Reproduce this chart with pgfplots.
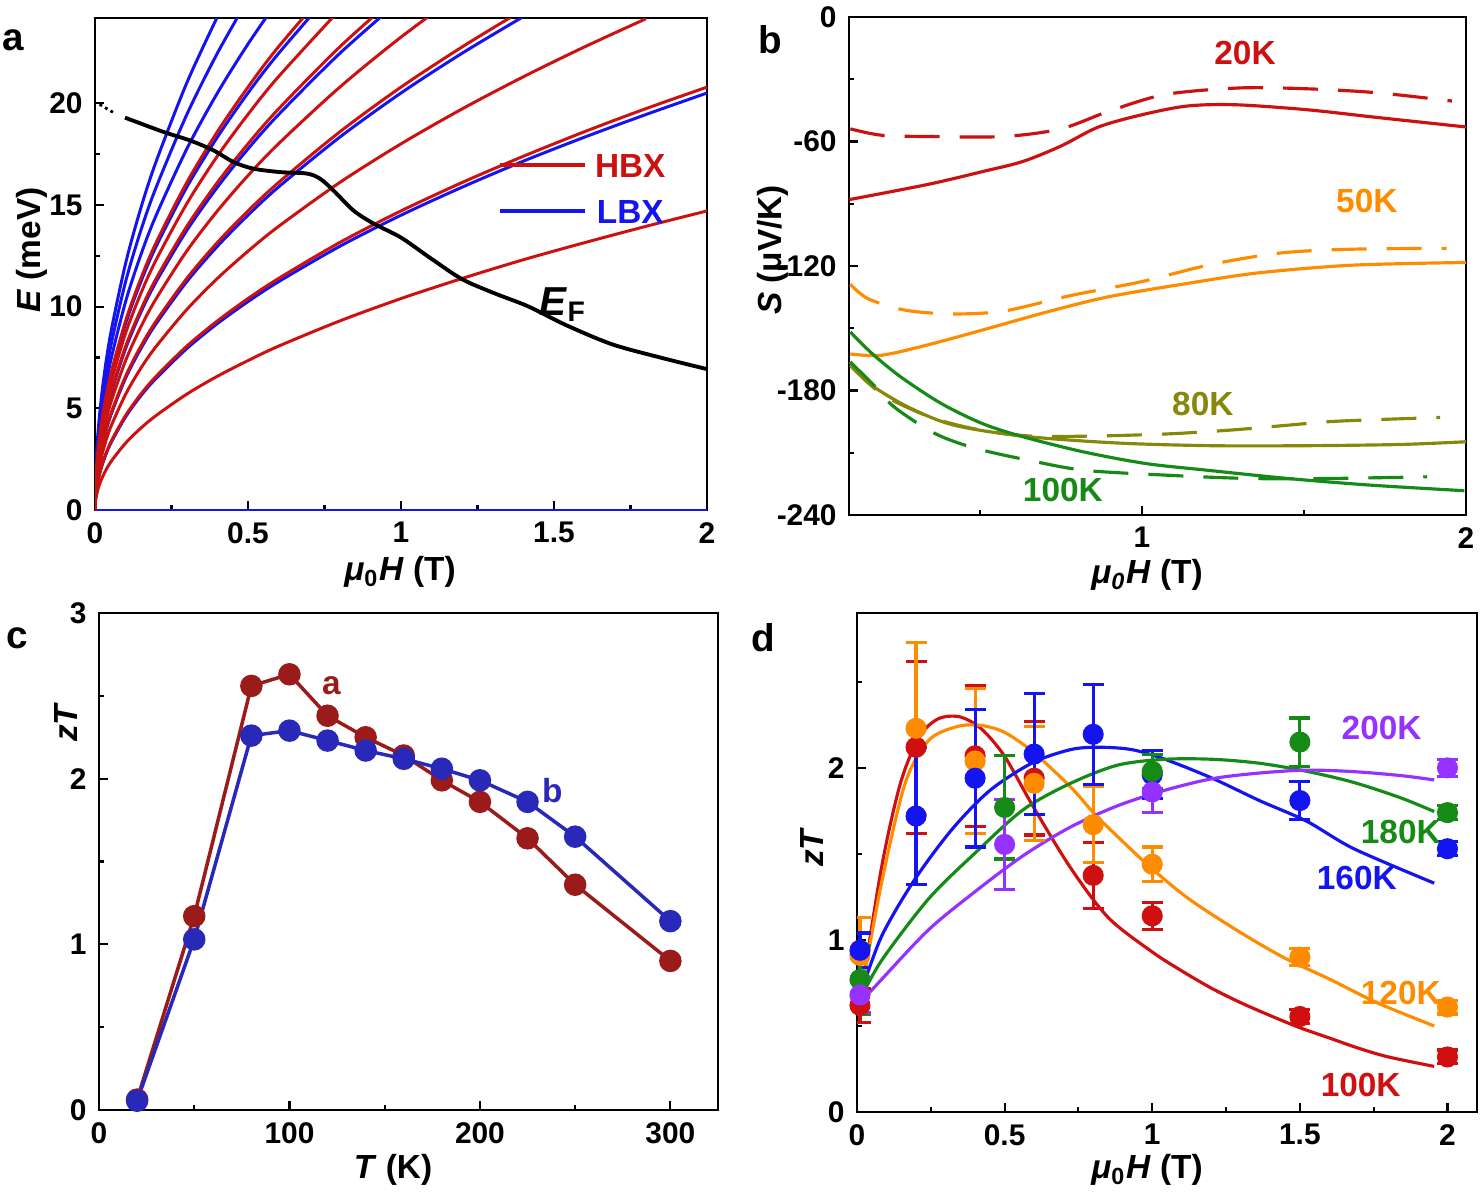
\documentclass[border=0pt]{standalone}
\usepackage{fontspec}
\setmainfont{Liberation Sans}
\usepackage{pgfplots}
\pgfplotsset{compat=1.18}

\definecolor{hbx}{RGB}{204,17,17}
\definecolor{lbx}{RGB}{20,20,240}
\definecolor{ra}{RGB}{155,27,27}
\definecolor{bb}{RGB}{40,40,185}
\definecolor{cred}{RGB}{208,16,16}
\definecolor{corange}{RGB}{255,140,0}
\definecolor{colive}{RGB}{135,135,10}
\definecolor{cgreen}{RGB}{22,138,22}
\definecolor{cblue}{RGB}{20,20,240}
\definecolor{cpurple}{RGB}{150,50,255}

\newcommand{\tfont}{\bfseries\fontsize{8.5}{10}\selectfont}
\newcommand{\lfont}{\bfseries\fontsize{9.5}{11}\selectfont}

\pgfplotsset{
  panel/.style={scale only axis, anchor=south west,
    axis line style={line width=0.8pt},
    tick style={line width=0.6pt, black},
    major tick length=0.09cm, minor tick length=0.05cm,
    tick pos=left,
    ticklabel style={font=\tfont},
    /pgf/number format/assume math mode=true},
  lev/.style={line width=0.85pt, smooth, forget plot},
  sb/.style={line width=0.9pt, smooth},
  sbd/.style={line width=0.9pt, smooth, dash pattern=on 0.35cm off 0.2cm},
  pts/.style={only marks, mark=*, mark size=2.8pt,
    error bars/.cd, y dir=both, y explicit,
    error bar style={line width=0.9pt},
    error mark options={line width=0.9pt, mark size=3pt, rotate=90}},
}

\begin{document}
\begin{tikzpicture}
\useasboundingbox (0,0) rectangle (14.8,-11.95);

% ---------------- panel a: Landau levels
\begin{axis}[panel, at={(0.95cm,-5.10cm)}, width=6.12cm, height=4.92cm,
  xmin=0, xmax=2, ymin=0, ymax=24.2,
  xtick={0,0.5,1,1.5,2}, ytick={0,5,10,15,20},
  minor x tick num=1, minor y tick num=1,
  legend style={draw=none, fill=none, at={(0.657,0.654)}, anchor=west,
    inner sep=0pt, nodes={inner sep=0pt, text height=2.4mm, text depth=0pt, font=\lfont},
    row sep=2.2mm, column sep=0.8mm},
  legend image code/.code={\draw[#1] (0cm,0cm) -- (0.85cm,0cm);}]
  \addplot[lbx, line width=0.85pt, forget plot] coordinates {(0,0)(2,0)};
  % LBX levels
  \addplot[lbx, lev] coordinates {(0,0)(0.002,0.65)(0.01,1.45)(0.025,2.29)(0.05,3.24)(0.1,4.58)(0.15,5.62)(0.2,6.48)(0.3,7.94)(0.4,9.17)(0.5,10.25)(0.6,11.23)(0.8,12.97)(1,14.5)(1.2,15.88)(1.4,17.16)(1.6,18.34)(1.8,19.45)(2,20.51)};
  \addplot[lbx, lev] coordinates {(0,0)(0.002,0.92)(0.01,2.05)(0.025,3.24)(0.05,4.59)(0.1,6.49)(0.15,7.94)(0.2,9.17)(0.3,11.23)(0.4,12.97)(0.5,14.50)(0.6,15.89)(0.8,18.34)(1,20.51)(1.2,22.47)(1.4,24.27)};
  \addplot[lbx, lev] coordinates {(0,0)(0.002,1.12)(0.01,2.51)(0.025,3.97)(0.05,5.61)(0.1,7.94)(0.15,9.73)(0.2,11.23)(0.3,13.75)(0.4,15.88)(0.5,17.76)(0.6,19.45)(0.8,22.46)(1,25.11)};
  \addplot[lbx, lev] coordinates {(0,0)(0.002,1.30)(0.01,2.90)(0.025,4.58)(0.05,6.48)(0.1,9.17)(0.15,11.23)(0.2,12.97)(0.3,15.88)(0.4,18.34)(0.5,20.51)(0.6,22.46)(0.8,25.94)};
  \addplot[lbx, lev] coordinates {(0,0)(0.002,1.45)(0.01,3.24)(0.025,5.12)(0.05,7.25)(0.1,10.25)(0.15,12.56)(0.2,14.50)(0.3,17.76)(0.4,20.51)(0.5,22.92)(0.6,25.11)};
  \addplot[lbx, lev] coordinates {(0,0)(0.002,1.59)(0.01,3.55)(0.025,5.61)(0.05,7.94)(0.1,11.23)(0.15,13.76)(0.2,15.88)(0.3,19.45)(0.4,22.47)(0.5,25.12)};
  \addplot[lbx, lev] coordinates {(0,0)(0.002,1.72)(0.01,3.84)(0.025,6.06)(0.05,8.58)(0.1,12.13)(0.15,14.86)(0.2,17.15)(0.3,21.01)(0.4,24.26)};
  % HBX levels
  \addplot[hbx, lev] coordinates {(0,0)(0.002,0.46)(0.01,1.04)(0.025,1.64)(0.05,2.33)(0.1,3.29)(0.15,4.03)(0.2,4.65)(0.3,5.70)(0.4,6.58)(0.5,7.35)(0.6,8.06)(0.8,9.30)(1,10.4)(1.2,11.39)(1.4,12.31)(1.6,13.15)(1.8,13.95)(2,14.71)};
  \addplot[hbx, lev] coordinates {(0,0)(0.002,0.66)(0.01,1.47)(0.025,2.32)(0.05,3.29)(0.1,4.65)(0.15,5.70)(0.2,6.58)(0.3,8.06)(0.4,9.30)(0.5,10.40)(0.6,11.39)(0.8,13.16)(1,14.71)(1.2,16.11)(1.4,17.40)(1.6,18.61)(1.8,19.74)(2,20.80)};
  \addplot[hbx, lev] coordinates {(0,0)(0.002,0.81)(0.01,1.80)(0.025,2.85)(0.05,4.03)(0.1,5.69)(0.15,6.98)(0.2,8.05)(0.3,9.86)(0.4,11.39)(0.5,12.73)(0.6,13.95)(0.8,16.11)(1,18.01)(1.2,19.73)(1.4,21.31)(1.6,22.78)(1.8,24.16)};
  \addplot[hbx, lev] coordinates {(0,0)(0.002,0.93)(0.01,2.08)(0.025,3.29)(0.05,4.65)(0.1,6.58)(0.15,8.06)(0.2,9.30)(0.3,11.39)(0.4,13.16)(0.5,14.71)(0.6,16.11)(0.8,18.60)(1,20.8)(1.2,22.78)(1.4,24.61)};
  \addplot[hbx, lev] coordinates {(0,0)(0.002,1.04)(0.01,2.33)(0.025,3.68)(0.05,5.20)(0.1,7.35)(0.15,9.01)(0.2,10.40)(0.3,12.74)(0.4,14.71)(0.5,16.45)(0.6,18.02)(0.8,20.80)(1,23.26)(1.2,25.48)};
  \addplot[hbx, lev] coordinates {(0,0)(0.002,1.14)(0.01,2.55)(0.025,4.02)(0.05,5.69)(0.1,8.05)(0.15,9.86)(0.2,11.39)(0.3,13.95)(0.4,16.11)(0.5,18.01)(0.6,19.73)(0.8,22.78)(1,25.47)};
  \addplot[hbx, lev] coordinates {(0,0)(0.002,1.23)(0.01,2.75)(0.025,4.35)(0.05,6.15)(0.1,8.70)(0.15,10.66)(0.2,12.31)(0.3,15.07)(0.4,17.41)(0.5,19.46)(0.6,21.32)(0.8,24.61)};
  \addplot[hbx, lev] coordinates {(0,0)(0.002,1.32)(0.01,2.94)(0.025,4.65)(0.05,6.58)(0.1,9.30)(0.15,11.39)(0.2,13.16)(0.3,16.11)(0.4,18.61)(0.5,20.80)(0.6,22.79)(0.8,26.31)};
  % Fermi level
  \addplot[black, densely dotted, line width=0.8pt, forget plot] coordinates {(0.015,19.95)(0.06,19.55)};
  \addplot[black, line width=1.1pt, smooth, forget plot] coordinates {(0.098,19.3)(0.223,18.6)(0.31,18.18)(0.387,17.69)(0.452,17.12)(0.517,16.79)(0.605,16.62)(0.692,16.55)(0.735,16.3)(0.779,15.72)(0.844,14.74)(0.91,14.09)(1.0,13.4)(1.1,12.35)(1.2,11.35)(1.307,10.65)(1.415,10.02)(1.54,9.09)(1.69,8.15)(1.85,7.49)(2.0,6.93)};
  \addlegendimage{hbx, line width=1.2pt}
  \addlegendentry{\textcolor{hbx}{HBX}}
  \addlegendimage{lbx, line width=1.2pt}
  \addlegendentry{\textcolor{lbx}{LBX}}
  \node[font=\bfseries\fontsize{11.5}{13}\selectfont] at (axis cs:1.53,10.1) {\textit{E}\textsubscript{F}};
\end{axis}

% ---------------- panel b: thermopower
\begin{axis}[panel, at={(8.49cm,-5.15cm)}, width=6.17cm, height=4.98cm,
  xmin=0.096, xmax=2, ymin=-240, ymax=0,
  xtick={1,2}, minor xtick={0.5,1.5},
  ytick={-240,-180,-120,-60,0}, yticklabels={-240,-180,-120,-60,0},
  minor ytick={-210,-150,-90,-30}]
  % 20 K
  \addplot[hbx, sb] coordinates {(0.097,-88)(0.342,-80.6)(0.516,-74.2)(0.633,-69.6)(0.75,-62.2)(0.866,-53)(1.0,-47.1)(1.14,-42.9)(1.29,-42.3)(1.51,-44.7)(1.725,-48.4)(2.0,-53)};
  \addplot[hbx, sbd] coordinates {(0.1,-53.9)(0.197,-57)(0.342,-57.6)(0.574,-57.6)(0.75,-53.9)(0.895,-45.6)(1.07,-37.4)(1.30,-34.2)(1.51,-34.6)(1.725,-36.5)(1.957,-40.5)};
  % 50 K
  \addplot[corange, sb] coordinates {(0.1,-162.4)(0.197,-163)(0.342,-157.9)(0.516,-150.5)(0.706,-142.2)(0.895,-134.9)(1.14,-128.4)(1.36,-123.3)(1.65,-119.6)(2.0,-118.3)};
  \addplot[corange, sbd] coordinates {(0.1,-128.8)(0.155,-135.8)(0.27,-141.3)(0.415,-143.1)(0.574,-141.7)(0.778,-134.3)(1.0,-127.5)(1.215,-119.2)(1.43,-113.7)(1.65,-111.9)(1.94,-111.5)};
  % 80 K
  \addplot[colive, sb] coordinates {(0.1,-166.1)(0.155,-176.2)(0.27,-187.3)(0.415,-196.5)(0.633,-202)(0.924,-205.3)(1.215,-206.6)(1.51,-206.6)(1.80,-206)(2.0,-204.7)};
  \addplot[colive, sbd] coordinates {(0.1,-168)(0.2,-182)(0.35,-193)(0.5,-199)(0.66,-202)(0.83,-202)(0.97,-201.5)(1.11,-200.7)(1.28,-199)(1.43,-197)(1.58,-195)(1.73,-194)(1.92,-193)};
  % 100 K
  \addplot[cgreen, sb] coordinates {(0.1,-151.8)(0.168,-162.3)(0.256,-173.5)(0.381,-186.3)(0.507,-195.9)(0.633,-202.3)(0.82,-209.6)(1.012,-215.2)(1.20,-218.4)(1.45,-222.4)(1.705,-225.6)(1.995,-228.3)};
  \addplot[cgreen, sbd] coordinates {(0.1,-166.3)(0.168,-176.7)(0.235,-187.9)(0.361,-200.7)(0.487,-207.9)(0.65,-213.6)(0.82,-218.4)(1.075,-220.8)(1.33,-222.4)(1.58,-222.4)(1.88,-221.6)};
  \node[font=\lfont, text=hbx] at (axis cs:1.318,-17.3) {20K};
  \node[font=\lfont, text=corange] at (axis cs:1.694,-88.5) {50K};
  \node[font=\lfont, text=colive] at (axis cs:1.188,-186.6) {80K};
  \node[font=\lfont, text=cgreen] at (axis cs:0.756,-228) {100K};
\end{axis}

% ---------------- panel c: zT vs T
\begin{axis}[panel, at={(0.99cm,-11.10cm)}, width=6.19cm, height=4.97cm,
  xmin=0, xmax=325, ymin=0, ymax=3,
  xtick={0,100,200,300}, minor xtick={50,150,250},
  ytick={0,1,2,3}, minor y tick num=1]
  \addplot[ra, line width=1.0pt, mark=*, mark size=2.7pt] coordinates {(20,0.063)(50,1.17)(80,2.56)(100,2.63)(120,2.38)(140,2.25)(160,2.14)(180,1.99)(200,1.86)(225,1.64)(250,1.36)(300,0.90)};
  \addplot[bb, line width=1.0pt, mark=*, mark size=2.7pt] coordinates {(20,0.056)(50,1.03)(80,2.26)(100,2.29)(120,2.23)(140,2.17)(160,2.12)(180,2.06)(200,1.99)(225,1.86)(250,1.65)(300,1.14)};
  \node[font=\lfont, text=ra] at (axis cs:122,2.56) {a};
  \node[font=\lfont, text=bb] at (axis cs:238,1.93) {b};
\end{axis}

% ---------------- panel d: zT vs field
\begin{axis}[panel, at={(8.57cm,-11.12cm)}, width=6.20cm, height=4.99cm,
  xmin=0, xmax=2.1, ymin=0, ymax=2.9,
  xtick={0,0.5,1,1.5,2}, minor x tick num=1,
  ytick={0,1,2}, minor ytick={0.5,1.5,2.5}]
  \addplot[cred, sb] coordinates {(0.011,0.645)(0.083,1.42)(0.147,1.91)(0.211,2.18)(0.275,2.285)(0.347,2.297)(0.419,2.23)(0.499,2.07)(0.595,1.78)(0.723,1.42)(0.851,1.13)(1.0,0.93)(1.1,0.82)(1.2,0.72)(1.3,0.635)(1.4,0.56)(1.5,0.49)(1.6,0.43)(1.7,0.37)(1.8,0.32)(1.955,0.265)};
  \addplot[corange, sb] coordinates {(0.011,0.66)(0.083,1.33)(0.163,1.91)(0.243,2.16)(0.339,2.24)(0.419,2.247)(0.499,2.207)(0.595,2.094)(0.723,1.89)(0.803,1.735)(0.883,1.60)(0.995,1.42)(1.123,1.24)(1.283,1.06)(1.443,0.90)(1.603,0.77)(1.763,0.634)(1.955,0.50)};
  \addplot[cblue, sb] coordinates {(0.011,0.68)(0.083,1.02)(0.195,1.35)(0.323,1.645)(0.451,1.87)(0.595,2.03)(0.723,2.106)(0.819,2.12)(0.931,2.106)(1.043,2.05)(1.203,1.94)(1.363,1.81)(1.523,1.69)(1.683,1.53)(1.955,1.33)};
  \addplot[cgreen, sb] coordinates {(0.011,0.656)(0.083,0.88)(0.243,1.24)(0.403,1.51)(0.563,1.757)(0.723,1.91)(0.883,2.016)(1.043,2.05)(1.203,2.05)(1.363,2.027)(1.523,1.98)(1.683,1.915)(1.843,1.825)(1.955,1.746)};
  \addplot[cpurple, sb] coordinates {(0.011,0.634)(0.083,0.77)(0.243,1.06)(0.403,1.285)(0.563,1.49)(0.723,1.656)(0.883,1.78)(1.043,1.87)(1.203,1.937)(1.363,1.97)(1.523,1.987)(1.683,1.978)(1.843,1.955)(1.955,1.93)};
  % measured points
  \addplot[cred, pts] coordinates {(0.01,0.62) +- (0,0.1) (0.2,2.12) +- (0,0.5) (0.4,2.07) +- (0,0.41) (0.6,1.94) +- (0,0.33) (0.8,1.375) +- (0,0.19) (1.0,1.14) +- (0,0.08) (1.5,0.555) +- (0,0.04) (2.0,0.32) +- (0,0.04)};
  \addplot[corange, pts] coordinates {(0.01,0.91) +- (0,0.22) (0.2,2.23) +- (0,0.5) (0.4,2.04) +- (0,0.42) (0.6,1.91) +- (0,0.33) (0.8,1.67) +- (0,0.22) (1.0,1.44) +- (0,0.1) (1.5,0.90) +- (0,0.05) (2.0,0.61) +- (0,0.04)};
  \addplot[cblue, pts] coordinates {(0.01,0.94) +- (0,0.1) (0.2,1.72) +- (0,0.4) (0.4,1.94) +- (0,0.4) (0.6,2.08) +- (0,0.35) (0.8,2.195) +- (0,0.29) (1.0,1.96) +- (0,0.14) (1.5,1.81) +- (0,0.11) (2.0,1.53) +- (0,0.04)};
  \addplot[cgreen, pts] coordinates {(0.01,0.77) +- (0,0.2) (0.5,1.77) +- (0,0.3) (1.0,1.98) +- (0,0.1) (1.5,2.15) +- (0,0.14) (2.0,1.74) +- (0,0.04)};
  \addplot[cpurple, pts] coordinates {(0.01,0.68) +- (0,0.1) (0.5,1.555) +- (0,0.26) (1.0,1.86) +- (0,0.12) (2.0,2.0) +- (0,0.05)};
  \node[font=\lfont, text=cpurple] at (axis cs:1.777,2.233) {200K};
  \node[font=\lfont, text=cgreen] at (axis cs:1.842,1.628) {180K};
  \node[font=\lfont, text=cblue] at (axis cs:1.693,1.36) {160K};
  \node[font=\lfont, text=corange] at (axis cs:1.842,0.692) {120K};
  \node[font=\lfont, text=cred] at (axis cs:1.706,0.157) {100K};
\end{axis}

% ---------------- labels
\node[rotate=90, font=\lfont] at (0.32,-2.50) {\textit{E} (meV)};
\node[font=\lfont] at (4.00,-5.72) {\textit{μ}\textsubscript{0}\textit{H} (T)};
\node[rotate=90, font=\lfont] at (7.73,-2.50) {\textit{S} (μV/K)};
\node[font=\lfont] at (11.47,-5.75) {\textit{μ\textsubscript{0}H} (T)};
\node[rotate=90, font=\lfont] at (0.66,-7.22) {\textit{zT}};
\node[font=\lfont] at (3.93,-11.70) {\textit{T} (K)};
\node[rotate=90, font=\lfont] at (8.12,-8.47) {\textit{zT}};
\node[font=\lfont] at (11.47,-11.70) {\textit{μ}\textsubscript{0}\textit{H} (T)};
\node[font=\bfseries\fontsize{11}{13}\selectfont] at (0.13,-0.40) {a};
\node[font=\bfseries\fontsize{11}{13}\selectfont] at (7.70,-0.40) {b};
\node[font=\bfseries\fontsize{11}{13}\selectfont] at (0.17,-6.38) {c};
\node[font=\bfseries\fontsize{11}{13}\selectfont] at (7.63,-6.38) {d};
\end{tikzpicture}
\end{document}
